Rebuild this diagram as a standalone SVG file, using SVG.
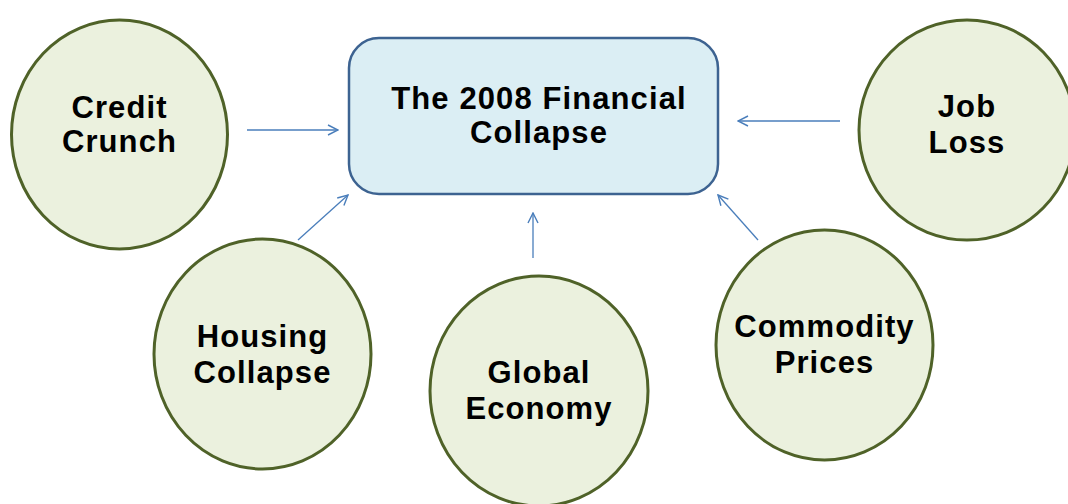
<svg xmlns="http://www.w3.org/2000/svg" width="1068" height="504" viewBox="0 0 1068 504">
  <defs>
    <marker id="open-arrow" viewBox="0 0 12 12" refX="11" refY="6" markerWidth="12" markerHeight="12" markerUnits="userSpaceOnUse" orient="auto">
      <path d="M1,1 L11,6 L1,11" fill="none" stroke="#4a7ebb" stroke-width="1.4"/>
    </marker>
    <style>
      .cause { fill: #ebf1de; stroke: #4f6228; stroke-width: 3; }
      .core { fill: #dbeef4; stroke: #3d6391; stroke-width: 2.5; }
      .label { font-family: "Liberation Sans", Arial, sans-serif; font-weight: bold; font-size: 31px; letter-spacing: 1.1px; fill: #000; text-anchor: middle; }
      .link { stroke: #4a7ebb; stroke-width: 1.3; fill: none; marker-end: url(#open-arrow); }
    </style>
  </defs>
  <rect width="1068" height="504" fill="#ffffff"/>

  <!-- connectors: each cause points at the central event -->
  <g id="connectors">
    <line class="link" x1="247" y1="130" x2="338" y2="130"/>
    <line class="link" x1="298" y1="240" x2="348" y2="195"/>
    <line class="link" x1="533" y1="258" x2="533" y2="213"/>
    <line class="link" x1="758" y1="240" x2="718" y2="195"/>
    <line class="link" x1="840" y1="121" x2="738" y2="121"/>
  </g>

  <g id="financial-collapse">
    <rect class="core" x="349" y="38" width="369" height="156" rx="30" ry="30"/>
    <text class="label" x="539" y="109">The 2008 Financial</text>
    <text class="label" x="539" y="143">Collapse</text>
  </g>

  <g id="credit-crunch">
    <ellipse class="cause" cx="119.5" cy="134.5" rx="108" ry="114.5"/>
    <text class="label" x="119.5" y="118">Credit</text>
    <text class="label" x="119.5" y="152">Crunch</text>
  </g>

  <g id="housing-collapse">
    <ellipse class="cause" cx="262.5" cy="354" rx="108.5" ry="115"/>
    <text class="label" x="262.5" y="347">Housing</text>
    <text class="label" x="262.5" y="383">Collapse</text>
  </g>

  <g id="global-economy">
    <ellipse class="cause" cx="539" cy="391" rx="109" ry="115"/>
    <text class="label" x="539" y="383">Global</text>
    <text class="label" x="539" y="419">Economy</text>
  </g>

  <g id="commodity-prices">
    <ellipse class="cause" cx="824.5" cy="345" rx="108.5" ry="115"/>
    <text class="label" x="824.5" y="337">Commodity</text>
    <text class="label" x="824.5" y="373">Prices</text>
  </g>

  <g id="job-loss">
    <ellipse class="cause" cx="967" cy="130" rx="108" ry="110"/>
    <text class="label" x="967" y="117">Job</text>
    <text class="label" x="967" y="153">Loss</text>
  </g>
</svg>
